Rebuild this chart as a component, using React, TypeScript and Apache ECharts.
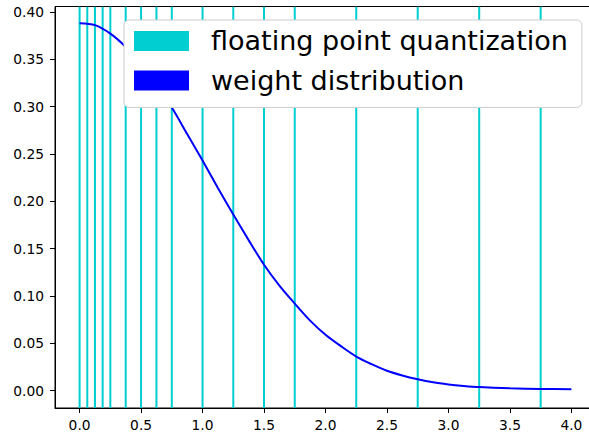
import React, { useEffect, useRef } from "react";
import * as echarts from "echarts";

// Quantization levels (x positions of the vertical lines)
const quantLevels = [
  0, 0.0625, 0.125, 0.1875, 0.25, 0.375, 0.5, 0.625, 0.75, 1.0, 1.25, 1.5,
  1.75, 2.25, 2.75, 3.25, 3.75,
];

// Weight distribution curve samples
const weightX = [
  0, 0.125, 0.25, 0.375, 0.5, 0.625, 0.75, 0.875, 1.0, 1.125, 1.25, 1.375,
  1.5, 1.625, 1.75, 1.875, 2.0, 2.125, 2.25, 2.375, 2.5, 2.625, 2.75, 2.875,
  3.0, 3.125, 3.25, 3.5, 3.75, 4.0,
];
const weightY = [
  0.388, 0.386, 0.377, 0.363, 0.345, 0.323, 0.299, 0.271, 0.243, 0.214,
  0.186, 0.159, 0.133, 0.111, 0.092, 0.074, 0.059, 0.047, 0.036, 0.028,
  0.021, 0.016, 0.012, 0.0088, 0.0066, 0.005, 0.0038, 0.0025, 0.0018, 0.0015,
];

const xTicks = [0, 0.5, 1.0, 1.5, 2.0, 2.5, 3.0, 3.5, 4.0];
const yTicks = [0, 0.05, 0.1, 0.15, 0.2, 0.25, 0.3, 0.35, 0.4];

const FONT = "DejaVu Sans";

export default function App() {
  const ref = useRef<HTMLDivElement>(null);

  useEffect(() => {
    if (!ref.current) return;
    const chart = echarts.init(ref.current, null, { renderer: "svg" });

    const option: any = {
      animation: false,
      backgroundColor: "#ffffff",
      grid: {
        left: 55,
        right: 0,
        top: 6.5,
        bottom: 29,
        show: true,
        borderColor: "#000000",
        borderWidth: 1,
        backgroundColor: "transparent",
      },
      legend: {
        left: 124,
        top: 20,
        orient: "vertical",
        icon: "rect",
        itemWidth: 55,
        itemHeight: 20,
        itemGap: 12.6,
        padding: [7.4, 14, 13.4, 10],
        backgroundColor: "#ffffff",
        borderColor: "#cccccc",
        borderWidth: 1,
        borderRadius: 5,
        textStyle: {
          fontFamily: FONT,
          fontSize: 27,
          color: "#000000",
          lineHeight: 20,
          padding: [0, 0, 0, 17],
        },
        data: ["floating point quantization", "weight distribution"],
      },
      xAxis: {
        type: "value",
        min: -0.2,
        max: 4.2,
        splitLine: { show: false },
        axisLine: { show: true, onZero: false, lineStyle: { color: "#000000", width: 1 } },
        axisTick: {
          show: true,
          length: 5,
          customValues: xTicks,
          lineStyle: { color: "#000000" },
        },
        axisLabel: {
          customValues: xTicks,
          formatter: (v: number) => v.toFixed(1),
          fontFamily: FONT,
          fontSize: 13.8,
          color: "#000000",
          margin: 10,
        },
      },
      yAxis: {
        type: "value",
        min: -0.0183,
        max: 0.4057,
        splitLine: { show: false },
        axisLine: { show: true, onZero: false, lineStyle: { color: "#000000", width: 1 } },
        axisTick: {
          show: true,
          length: 5,
          customValues: yTicks,
          lineStyle: { color: "#000000" },
        },
        axisLabel: {
          customValues: yTicks,
          formatter: (v: number) => v.toFixed(2),
          fontFamily: FONT,
          fontSize: 13.8,
          color: "#000000",
          margin: 11,
        },
      },
      series: [
        {
          name: "floating point quantization",
          type: "custom",
          color: "#00CED1",
          itemStyle: { color: "#00CED1" },
          data: quantLevels.map((v) => [v]),
          clip: true,
          renderItem: (params: any, api: any) => {
            const x = api.value(0);
            const top = api.coord([x, 0.4057]);
            const bottom = api.coord([x, -0.0183]);
            return {
              type: "line",
              shape: { x1: top[0], y1: top[1], x2: bottom[0], y2: bottom[1] },
              style: { stroke: "#00CED1", lineWidth: 2 },
            };
          },
          z: 2,
        },
        {
          name: "weight distribution",
          type: "line",
          color: "#0000FF",
          data: weightX.map((x, i) => [x, weightY[i]]),
          smooth: 0.3,
          showSymbol: false,
          symbol: "none",
          lineStyle: { color: "#0000FF", width: 2 },
          itemStyle: { color: "#0000FF" },
          z: 3,
        },
      ],
    };

    chart.setOption(option);
    return () => chart.dispose();
  }, []);

  // The plot runs slightly past the right edge of the window, hiding the right spine
  return (
    <div
      ref={ref}
      style={{ position: "fixed", left: 0, top: 0, width: 596, height: 437 }}
    />
  );
}
